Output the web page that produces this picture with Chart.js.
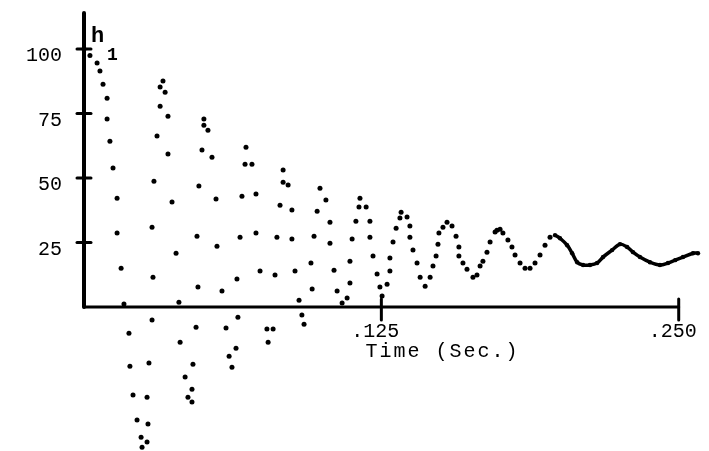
<!DOCTYPE html>
<html><head><meta charset="utf-8">
<script src="https://cdn.jsdelivr.net/npm/chart.js@4.4.1/dist/chart.umd.min.js"></script>
<style>html,body{margin:0;padding:0;background:#fff}canvas{display:block}</style>
</head><body>
<canvas id="c" width="709" height="451"></canvas>
<script>
// ---- data ----
const timeSec = [
  0, 0.0025, 0.0055, 0.0067, 0.0080, 0.0097, 0.0097, 0.0109, 0.0122, 0.0139, 0.0139, 0.0156, 0.0168, 0.0189, 0.0193, 0.0206, 0.0223, 0.0240, 0.0244,
  0.0265, 0.0269, 0.0265, 0.0273, 0.0286, 0.0290, 0.0286, 0.0294, 0.0307, 0.0320, 0.0320, 0.0332,
  0.0341, 0.0353, 0.0353, 0.0370, 0.0387, 0.0399, 0.0404, 0.0425, 0.0437, 0.0454,
  0.0454, 0.0458, 0.0471, 0.0479, 0.0475, 0.0483, 0.0496, 0.0504, 0.0504,
  0.0521, 0.0538, 0.0555, 0.0559, 0.0580, 0.0597, 0.0610, 0.0622,
  0.0639, 0.0647, 0.0643, 0.0656, 0.0664, 0.0677, 0.0681,
  0.0706, 0.0723, 0.0723, 0.0740, 0.0769, 0.0774,
  0.0795, 0.0803, 0.0811, 0.0824, 0.0837, 0.0837,
  0.0858, 0.0874, 0.0874, 0.0887, 0.0904, 0.0916, 0.0925,
  0.0959, 0.0954, 0.0967, 0.0980, 0.0992,
  0.1017, 0.1034, 0.1034, 0.1051, 0.1064, 0.1085, 0.1106,
  0.1118, 0.1118, 0.1127, 0.1143, 0.1156, 0.1160,
  0.1186, 0.1202, 0.1202, 0.1215, 0.1232, 0.1244, 0.1253,
  0.1274, 0.1286, 0.1286, 0.1299, 0.1312, 0.1328, 0.1333,
  0.1358,
  0.1370, 0.1370, 0.1383, 0.1400, 0.1413, 0.1434,
  0.1455, 0.1467, 0.1480, 0.1488, 0.1492, 0.1509, 0.1526, 0.1547,
  0.1564, 0.1576, 0.1576, 0.1593, 0.1610, 0.1635, 0.1652,
  0.1665, 0.1677, 0.1694, 0.1707, 0.1728, 0.1736, 0.1749,
  0.1761, 0.1782, 0.1799, 0.1812, 0.1833, 0.1854, 0.1875,
  0.1896, 0.1917, 0.1938, 0.1959
];
const heightVals = [
  100, 97.5, 94.6, 91.5, 86.4, 81.0, 72.9, 64.3, 53.9, 42.2, 28.7, 15.1, 1.2, -10.1, -22.9, -34.1, -43.8, -50.4, -54.3,
  -52.3, -45.3, -34.9, -21.7, -5.0, 11.6, 31.0, 48.8, 66.3, 77.9, 85.3, 87.6,
  83.3, 74.0, 59.3, 40.7, 20.9, 1.9, -13.6, -27.1, -34.9, -36.8,
  -31.8, -22.1, -7.8, 7.8, 27.5, 46.9, 60.9, 70.5, 72.9,
  68.6, 58.1, 41.9, 23.6, 6.2, -8.1, -19.0, -23.3,
  -15.9, -3.9, 10.9, 27.1, 43.0, 55.4, 62.0,
  55.4, 43.8, 28.7, 14.0, -8.5, -13.6,
  -8.5, 12.4, 27.1, 39.5, 48.4, 53.1,
  47.3, 37.6, 26.4, 14.0, 2.7, -3.1, -6.6,
  7.0, 17.1, 27.5, 37.2, 46.1,
  41.5, 32.9, 24.8, 14.3, 6.2, 1.6, 3.5,
  9.3, 17.8, 26.4, 33.3, 38.8, 42.2,
  38.8, 33.3, 27.1, 19.8, 12.8, 7.8, 4.3,
  8.9, 14.0, 19.0, 25.2, 30.6, 34.5, 36.8,
  34.9,
  31.4, 27.1, 22.1, 17.1, 11.6, 8.1,
  11.6, 15.9, 19.8, 24.4, 28.7, 31.0, 32.9, 31.4,
  27.5, 23.3, 19.8, 17.1, 14.7, 11.6, 12.4,
  15.9, 17.8, 21.3, 25.2, 29.1, 29.8, 30.2,
  28.7, 26.0, 23.3, 20.2, 17.1, 15.1, 15.1,
  17.1, 20.2, 24.0, 27.1
];
const tailTime = [0.1980, 0.2001, 0.2031, 0.2052, 0.2073, 0.2098, 0.2127, 0.2157, 0.2182, 0.2220, 0.2253,
                  0.2283, 0.2308, 0.2337, 0.2379, 0.2421, 0.2455, 0.2485, 0.2518, 0.2560, 0.2581];
const tailHeight = [27.9, 26.7, 24.0, 20.9, 17.4, 16.3, 16.3, 17.1, 19.4, 22.1, 24.4,
                    23.3, 21.3, 19.4, 17.4, 16.3, 17.1, 18.2, 19.4, 20.9, 20.9];

const yTickValues = [25, 50, 75, 100];
const yTickLabels = ['25', '50', '75', '100'];
const xTickValues = [0.125, 0.250];
const xTickLabels = ['.125', '.250'];
const xAxisTitle = 'Time (Sec.)';
const seriesLabel = 'h';
const seriesSub = '1';

const toPts = (xs, ys) => xs.map((x, i) => ({x: x, y: ys[i]}));

const MONO = '"Liberation Mono", "DejaVu Sans Mono", monospace';

const handAxes = {
  id: 'handAxes',
  beforeDatasetsDraw(chart) {
    const ctx = chart.ctx, xs = chart.scales.x, ys = chart.scales.y;
    const x0 = xs.getPixelForValue(0), y0 = ys.getPixelForValue(0);
    const yTop = chart.chartArea.top;
    const xEnd = xs.getPixelForValue(xTickValues[xTickValues.length - 1]);
    ctx.save();
    ctx.strokeStyle = '#000';
    ctx.fillStyle = '#000';
    ctx.lineCap = 'round';
    ctx.lineWidth = 4;
    ctx.beginPath(); ctx.moveTo(x0, yTop); ctx.lineTo(x0, y0); ctx.stroke();
    ctx.lineWidth = 3;
    ctx.beginPath(); ctx.moveTo(x0, y0); ctx.lineTo(xEnd, y0); ctx.stroke();
    yTickValues.forEach(v => {
      const py = ys.getPixelForValue(v);
      ctx.beginPath(); ctx.moveTo(x0 - 7, py); ctx.lineTo(x0 + 7, py); ctx.stroke();
    });
    xTickValues.forEach(v => {
      const px = xs.getPixelForValue(v);
      ctx.beginPath(); ctx.moveTo(px, y0 - 8); ctx.lineTo(px, y0 + 13); ctx.stroke();
    });
    ctx.font = '20px ' + MONO;
    ctx.textAlign = 'right'; ctx.textBaseline = 'middle';
    yTickValues.forEach((v, i) => ctx.fillText(yTickLabels[i], x0 - 22, ys.getPixelForValue(v) + 7));
    ctx.textAlign = 'center';
    xTickValues.forEach((v, i) => ctx.fillText(xTickLabels[i], xs.getPixelForValue(v) - 6, y0 + 25));
    try { ctx.letterSpacing = '2px'; } catch (e) {}
    ctx.fillText(xAxisTitle, x0 + 0.603 * (xEnd - x0), y0 + 45);
    try { ctx.letterSpacing = '0px'; } catch (e) {}
    ctx.textAlign = 'left'; ctx.textBaseline = 'alphabetic';
    const p100 = ys.getPixelForValue(100);
    ctx.font = 'bold 22px ' + MONO;
    ctx.fillText(seriesLabel, x0 + 7, p100 - 7);
    ctx.font = 'bold 18px ' + MONO;
    ctx.fillText(seriesSub, x0 + 23, p100 + 11);
    ctx.restore();
  }
};

new Chart(document.getElementById('c'), {
  type: 'scatter',
  data: {
    datasets: [
      {
        label: 'h1',
        data: toPts(timeSec, heightVals),
        showLine: false,
        pointRadius: 2.5,
        pointBackgroundColor: '#000',
        pointBorderWidth: 0,
        clip: false
      },
      {
        label: 'h1 tail',
        data: toPts(tailTime, tailHeight),
        showLine: true,
        borderColor: '#000',
        borderWidth: 3.5,
        tension: 0.3,
        pointRadius: 2.2,
        pointBackgroundColor: '#000',
        pointBorderWidth: 0,
        clip: false
      }
    ]
  },
  options: {
    responsive: false,
    animation: false,
    events: [],
    layout: { autoPadding: false, padding: { left: 84, right: 6.5, top: 13, bottom: 0.7 } },
    plugins: { legend: { display: false }, tooltip: { enabled: false } },
    scales: {
      x: { type: 'linear', min: 0, max: 0.26, display: false },
      y: { type: 'linear', min: -55.5, max: 114, display: false }
    }
  },
  plugins: [handAxes]
});
</script>
</body></html>
